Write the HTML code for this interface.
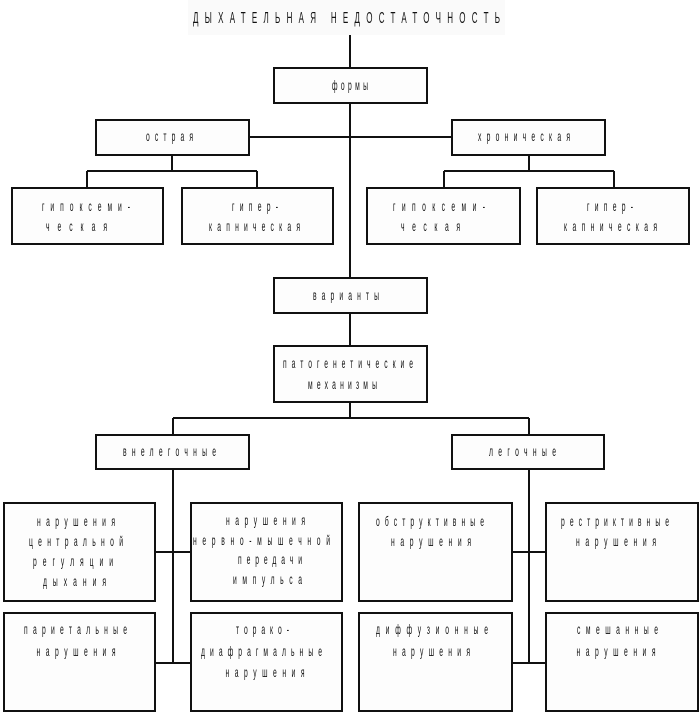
<!DOCTYPE html>
<html><head><meta charset="utf-8"><style>
html,body{margin:0;padding:0;background:#fff;}
svg{display:block;}
text{font-family:"Liberation Sans","DejaVu Sans",sans-serif;font-size:13.5px;fill:#111;}
.t{font-size:16px;}
</style></head><body>
<svg width="700" height="714" viewBox="0 0 700 714" xmlns="http://www.w3.org/2000/svg">
<rect x="0" y="0" width="700" height="714" fill="#fff"/>
<rect x="188" y="0" width="317" height="35" fill="#fafafa"/>
<g stroke="#111" stroke-width="2" fill="none">
<line x1="350" y1="35" x2="350" y2="68"/>
<line x1="350" y1="103" x2="350" y2="278"/>
<line x1="350" y1="313" x2="350" y2="346"/>
<line x1="350" y1="402" x2="350" y2="418"/>
<line x1="249" y1="137" x2="452" y2="137"/>
<line x1="172" y1="155" x2="172" y2="171"/>
<line x1="87" y1="171" x2="257" y2="171"/>
<line x1="87" y1="171" x2="87" y2="188"/>
<line x1="257" y1="171" x2="257" y2="188"/>
<line x1="529" y1="155" x2="529" y2="171"/>
<line x1="444" y1="171" x2="614" y2="171"/>
<line x1="444" y1="171" x2="444" y2="188"/>
<line x1="614" y1="171" x2="614" y2="188"/>
<line x1="173" y1="418" x2="529" y2="418"/>
<line x1="173" y1="418" x2="173" y2="435"/>
<line x1="529" y1="418" x2="529" y2="435"/>
<line x1="173" y1="469" x2="173" y2="663"/>
<line x1="529" y1="469" x2="529" y2="663"/>
<line x1="155" y1="552" x2="191" y2="552"/>
<line x1="155" y1="663" x2="191" y2="663"/>
<line x1="512" y1="552" x2="546" y2="552"/>
<line x1="512" y1="663" x2="546" y2="663"/>
</g>
<g stroke="#111" stroke-width="2" fill="#fdfdfd">
<rect x="274" y="68" width="153" height="35"/>
<rect x="96" y="120" width="153" height="35"/>
<rect x="452" y="120" width="153" height="35"/>
<rect x="12" y="188" width="151" height="56"/>
<rect x="182" y="188" width="151" height="56"/>
<rect x="367" y="188" width="153" height="56"/>
<rect x="537" y="188" width="152" height="56"/>
<rect x="274" y="278" width="153" height="35"/>
<rect x="274" y="346" width="153" height="56"/>
<rect x="96" y="435" width="153" height="34"/>
<rect x="452" y="435" width="152" height="34"/>
<rect x="4" y="503" width="151" height="98"/>
<rect x="191" y="503" width="151" height="98"/>
<rect x="359" y="503" width="153" height="98"/>
<rect x="546" y="503" width="152" height="98"/>
<rect x="4" y="613" width="151" height="98"/>
<rect x="191" y="613" width="151" height="98"/>
<rect x="359" y="613" width="153" height="98"/>
<rect x="546" y="613" width="152" height="98"/>
</g>
<g>
<text class="t" transform="translate(346.5,23) scale(0.5,1)" x="-307" textLength="614" lengthAdjust="spacing">ДЫХАТЕЛЬНАЯ НЕДОСТАТОЧНОСТЬ</text>
<text transform="translate(350,90) scale(0.5,1)" x="-36" textLength="72" lengthAdjust="spacing">формы</text>
<text transform="translate(169.5,141) scale(0.5,1)" x="-47" textLength="94" lengthAdjust="spacing">острая</text>
<text transform="translate(524,141) scale(0.5,1)" x="-92" textLength="184" lengthAdjust="spacing">хроническая</text>
<text transform="translate(86,211) scale(0.5,1)" x="-88" textLength="176" lengthAdjust="spacing">гипоксеми-</text>
<text transform="translate(76.5,231) scale(0.5,1)" x="-61" textLength="122" lengthAdjust="spacing">ческая</text>
<text transform="translate(255,211) scale(0.5,1)" x="-46" textLength="92" lengthAdjust="spacing">гипер-</text>
<text transform="translate(254.5,231) scale(0.5,1)" x="-91" textLength="182" lengthAdjust="spacing">капническая</text>
<text transform="translate(439,211) scale(0.5,1)" x="-92" textLength="184" lengthAdjust="spacing">гипоксеми-</text>
<text transform="translate(430.5,231) scale(0.5,1)" x="-59" textLength="118" lengthAdjust="spacing">ческая</text>
<text transform="translate(610,211) scale(0.5,1)" x="-46" textLength="92" lengthAdjust="spacing">гипер-</text>
<text transform="translate(610.5,231) scale(0.5,1)" x="-93" textLength="186" lengthAdjust="spacing">капническая</text>
<text transform="translate(346,300) scale(0.5,1)" x="-66" textLength="132" lengthAdjust="spacing">варианты</text>
<text transform="translate(348,368) scale(0.5,1)" x="-130" textLength="260" lengthAdjust="spacing">патогенетические</text>
<text transform="translate(342.5,389) scale(0.5,1)" x="-69" textLength="138" lengthAdjust="spacing">механизмы</text>
<text transform="translate(169.5,456) scale(0.5,1)" x="-93" textLength="186" lengthAdjust="spacing">внелегочные</text>
<text transform="translate(522.5,456) scale(0.5,1)" x="-67" textLength="134" lengthAdjust="spacing">легочные</text>

<text transform="translate(76,526) scale(0.5,1)" x="-78" textLength="156" lengthAdjust="spacing">нарушения</text>
<text transform="translate(76,546) scale(0.5,1)" x="-94" textLength="188" lengthAdjust="spacing">центральной</text>
<text transform="translate(73,566) scale(0.5,1)" x="-80" textLength="160" lengthAdjust="spacing">регуляции</text>
<text transform="translate(74.5,586) scale(0.5,1)" x="-63" textLength="126" lengthAdjust="spacing">дыхания</text>

<text transform="translate(265.5,525) scale(0.5,1)" x="-79" textLength="158" lengthAdjust="spacing">нарушения</text>
<text transform="translate(261.5,545) scale(0.5,1)" x="-137" textLength="274" lengthAdjust="spacing">нервно-мышечной</text>
<text transform="translate(270,564) scale(0.5,1)" x="-64" textLength="128" lengthAdjust="spacing">передачи</text>
<text transform="translate(267.5,584) scale(0.5,1)" x="-69" textLength="138" lengthAdjust="spacing">импульса</text>

<text transform="translate(430,526) scale(0.5,1)" x="-108" textLength="216" lengthAdjust="spacing">обструктивные</text>
<text transform="translate(431,546) scale(0.5,1)" x="-80" textLength="160" lengthAdjust="spacing">нарушения</text>
<text transform="translate(615,526) scale(0.5,1)" x="-108" textLength="216" lengthAdjust="spacing">рестриктивные</text>
<text transform="translate(616,546) scale(0.5,1)" x="-80" textLength="160" lengthAdjust="spacing">нарушения</text>

<text transform="translate(75.5,634) scale(0.5,1)" x="-103" textLength="206" lengthAdjust="spacing">париетальные</text>
<text transform="translate(76,656) scale(0.5,1)" x="-79" textLength="158" lengthAdjust="spacing">нарушения</text>
<text transform="translate(262.5,634) scale(0.5,1)" x="-53" textLength="106" lengthAdjust="spacing">торако-</text>
<text transform="translate(261.5,656) scale(0.5,1)" x="-121" textLength="242" lengthAdjust="spacing">диафрагмальные</text>
<text transform="translate(265,677) scale(0.5,1)" x="-79" textLength="158" lengthAdjust="spacing">нарушения</text>
<text transform="translate(432,634) scale(0.5,1)" x="-112" textLength="224" lengthAdjust="spacing">диффузионные</text>
<text transform="translate(431.5,656) scale(0.5,1)" x="-77" textLength="154" lengthAdjust="spacing">нарушения</text>
<text transform="translate(617.5,634) scale(0.5,1)" x="-81" textLength="162" lengthAdjust="spacing">смешанные</text>
<text transform="translate(616,656) scale(0.5,1)" x="-79" textLength="158" lengthAdjust="spacing">нарушения</text>
</g>
</svg>
</body></html>
